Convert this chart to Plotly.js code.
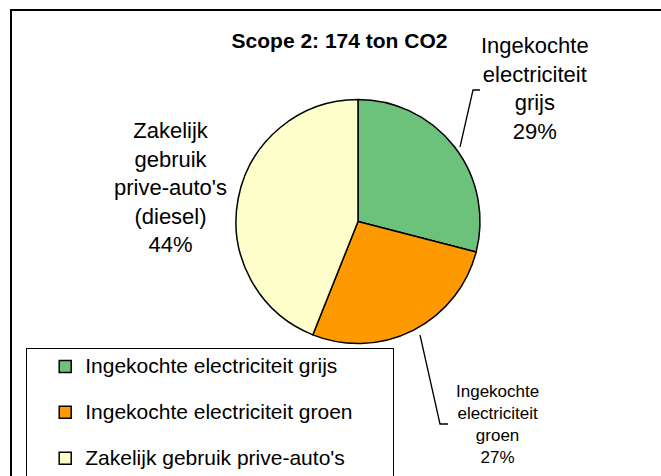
<!DOCTYPE html>
<html>
<head>
<meta charset="utf-8">
<script src="https://cdn.plot.ly/plotly-3.0.1.min.js"></script>
<style>html,body{margin:0;padding:0;background:#fff;}#chart{width:661px;height:476px;}</style>
</head>
<body>
<div id="chart"></div>
<script>
// ---- data ----
var chartTitle = "Scope 2: 174 ton CO2";
var categories = ["Ingekochte electriciteit grijs", "Ingekochte electriciteit groen", "Zakelijk gebruik prive-auto's (diesel)"];
var legendNames = ["Ingekochte electriciteit grijs", "Ingekochte electriciteit groen", "Zakelijk gebruik prive-auto's"];
var values = [50.5, 47, 76.5];   // ton CO2
var colors = ["#6CC17B", "#FF9900", "#FFFFCC"];

// ---- helpers ----
var W = 661, H = 476;
function px(x) { return x / W; }
function py(y) { return 1 - y / H; }
var total = values.reduce(function (a, b) { return a + b; }, 0);
var pct = values.map(function (v) { return Math.round(v / total * 100) + "%"; });

// legend labels: two lines (second blank) so rows are evenly spaced like the original
var pad = "\u00a0\u00a0\u00a0\u00a0\u00a0\u00a0";
function legendLabel(s) {
  return "<span style='font-size:21px'>" + s + pad + "</span><br> ";
}
function sliceLabel(i) { return categories[i].split(" ").join("<br>") + "<br>" + pct[i]; }

var font = "Liberation Sans, Arial, sans-serif";

var trace = {
  type: "pie",
  labels: legendNames.map(legendLabel),
  values: values,
  sort: false,
  direction: "clockwise",
  rotation: 0,
  textinfo: "none",
  hoverinfo: "none",
  marker: { colors: colors, line: { color: "#000", width: 1.5 } },
  domain: { x: [px(358 - 122), px(358 + 122)], y: [py(221.5 + 122), py(221.5 - 122)] }
};

var layout = {
  width: W, height: H,
  margin: { l: 0, r: 0, t: 0, b: 0, autoexpand: false },
  paper_bgcolor: "#fff",
  font: { family: font, color: "#000" },
  title: {
    text: chartTitle,
    font: { family: font, size: 21, weight: "bold", color: "#000" },
    x: px(339.5), xanchor: "center", xref: "paper",
    y: py(40.7), yanchor: "middle", yref: "container"
  },
  showlegend: true,
  legend: {
    x: px(26), xanchor: "left", y: py(348), yanchor: "top",
    font: { family: font, size: 16.5, color: "#000" },
    bordercolor: "#000", borderwidth: 1.2, bgcolor: "#fff",
    valign: "top", indentation: 18
  },
  annotations: [
    { text: sliceLabel(0), x: px(535), y: py(88), xref: "paper", yref: "paper", xanchor: "center", yanchor: "middle", showarrow: false, font: { family: font, size: 22, color: "#000" } },
    { text: sliceLabel(1), x: px(497), y: py(424.5), xref: "paper", yref: "paper", xanchor: "center", yanchor: "middle", showarrow: false, font: { family: font, size: 17, color: "#000" } },
    { text: sliceLabel(2), x: px(171), y: py(188), xref: "paper", yref: "paper", xanchor: "center", yanchor: "middle", showarrow: false, font: { family: font, size: 22, color: "#000" } }
  ],
  shapes: [
    // chart frame (cropped at right and bottom)
    { type: "rect", xref: "paper", yref: "paper", x0: px(11), x1: px(W + 10), y0: py(H + 10), y1: py(10), line: { color: "#000", width: 2 }, layer: "below" },
    // leader lines
    { type: "path", xref: "paper", yref: "paper", path: "M" + px(460) + "," + py(147) + " L" + px(473) + "," + py(90) + " L" + px(480) + "," + py(90), line: { color: "#000", width: 1.3 } },
    { type: "path", xref: "paper", yref: "paper", path: "M" + px(420) + "," + py(335) + " L" + px(440) + "," + py(424) + " L" + px(448) + "," + py(424), line: { color: "#000", width: 1.3 } }
  ]
};

Plotly.newPlot("chart", [trace], layout, { staticPlot: true, displayModeBar: false });
</script>
</body>
</html>
